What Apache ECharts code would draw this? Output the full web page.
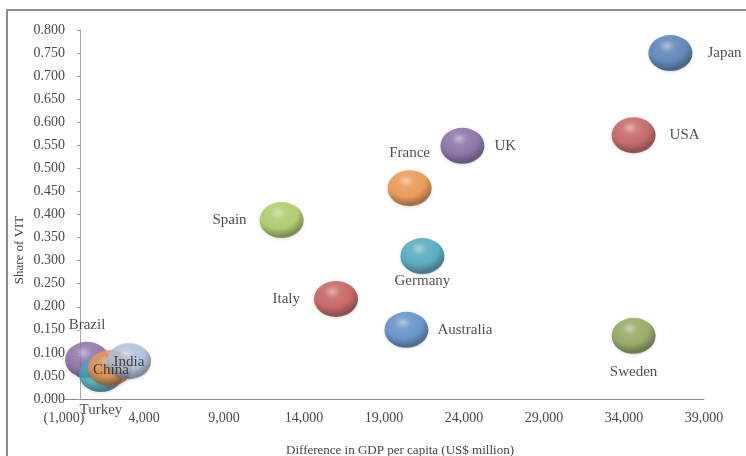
<!DOCTYPE html>
<html>
<head>
<meta charset="utf-8">
<script src="https://cdn.jsdelivr.net/npm/echarts@6/dist/echarts.min.js"></script>
<style>
  html, body { margin: 0; padding: 0; background: #fff; }
  #chart { width: 746px; height: 456px; }
</style>
</head>
<body>
<div id="chart"></div>
<script>
// Countries, GDP-per-capita difference (US$ million) and share of VIT
var countries = ['Japan', 'USA', 'UK', 'France', 'Spain', 'Germany', 'Italy', 'Australia', 'Sweden', 'Brazil', 'Turkey', 'China', 'India'];
var gdpDiff   = [36900, 34600, 23900, 20600, 12600, 21400, 16000, 20400, 34600, 440, 1310, 1875, 3060];
var vitShare  = [0.750, 0.572, 0.549, 0.457, 0.388, 0.310, 0.217, 0.150, 0.137, 0.085, 0.054, 0.067, 0.082];

// Axis ticks
var xTicks = [-1000, 4000, 9000, 14000, 19000, 24000, 29000, 34000, 39000];
var yTicks = [0, 0.05, 0.10, 0.15, 0.20, 0.25, 0.30, 0.35, 0.40, 0.45, 0.50, 0.55, 0.60, 0.65, 0.70, 0.75, 0.80];

// Bubble base colours
var bubbleColors = {
  Japan: '#4274b0', USA: '#c0504d', UK: '#7a5c9e', France: '#ee8b38', Spain: '#a6c856',
  Germany: '#3aa0ba', Italy: '#c24c49', Australia: '#4b84c6', Sweden: '#889f4a',
  Brazil: '#8062a2', Turkey: '#3ca5bf', China: '#f39243', India: '#a9bcdb'
};

// Where each country's name sits relative to its bubble
var labelPlacement = {
  Japan: ['right', 15], USA: ['right', 14], UK: ['right', 10], France: ['top', 10],
  Spain: ['left', 13], Germany: ['bottom', 0], Italy: ['left', 14], Australia: ['right', 9],
  Sweden: ['bottom', 11], Brazil: ['top', 9], Turkey: ['bottom', 10],
  China: ['inside', 0, [1, 2]], India: ['inside', 0, [0, 1]]
};

function shade(hex, f) {
  var n = parseInt(hex.slice(1), 16);
  var r = (n >> 16) & 255, g = (n >> 8) & 255, b = n & 255;
  function ch(c) {
    var v = f >= 0 ? c + (255 - c) * f : c * (1 + f);
    return Math.max(0, Math.min(255, Math.round(v)));
  }
  return 'rgb(' + ch(r) + ',' + ch(g) + ',' + ch(b) + ')';
}

// Glossy sphere look: bright highlight upper-left, darker rim below
function sphere(hex) {
  return {
    type: 'radial', x: 0.42, y: 0.3, r: 0.8,
    colorStops: [
      { offset: 0, color: shade(hex, 0.5) },
      { offset: 0.22, color: shade(hex, 0.12) },
      { offset: 0.55, color: hex },
      { offset: 0.82, color: shade(hex, -0.4) },
      { offset: 1, color: shade(hex, -0.2) }
    ]
  };
}

var tickFont = { fontFamily: 'Liberation Serif', fontSize: 14, color: '#4a4a4a' };

var points = countries.map(function (name, i) {
  var lp = labelPlacement[name];
  var label = { position: lp[0], distance: lp[1] };
  if (lp[2]) label.offset = lp[2];
  return {
    name: name,
    value: [gdpDiff[i], vitShare[i]],
    itemStyle: { color: sphere(bubbleColors[name]) },
    label: label
  };
});

function fmtThousands(v) {
  var s = Math.abs(v).toFixed(0).replace(/\B(?=(\d{3})+(?!\d))/g, ',');
  return v < 0 ? '(' + s + ')' : s;
}

var chart = echarts.init(document.getElementById('chart'), null, { renderer: 'canvas' });
chart.setOption({
  animation: false,
  backgroundColor: '#ffffff',
  grid: { left: 64, right: 42, top: 30, bottom: 57, containLabel: false },
  xAxis: {
    type: 'value',
    min: xTicks[0],
    max: xTicks[xTicks.length - 1],
    interval: xTicks[1] - xTicks[0],
    splitLine: { show: false },
    axisTick: { show: false },
    axisLine: { onZero: true, lineStyle: { color: '#8a8a8a', width: 1 } },
    axisLabel: Object.assign({ margin: 12, formatter: fmtThousands }, tickFont)
  },
  yAxis: {
    type: 'value',
    min: yTicks[0],
    max: yTicks[yTicks.length - 1],
    interval: yTicks[1] - yTicks[0],
    splitLine: { show: false },
    axisTick: { show: true, length: 3, lineStyle: { color: '#a0a0a0' } },
    axisLine: { onZero: true, lineStyle: { color: '#a8a8a8', width: 1 } },
    axisLabel: Object.assign({ margin: -1, formatter: function (v) { return v.toFixed(3); } }, tickFont)
  },
  graphic: [
    {
      type: 'rect', silent: true, z: -1,
      shape: { x: 7, y: 10, width: 760, height: 470 },
      style: { fill: 'none', stroke: '#8c8c8c', lineWidth: 2 }
    },
    {
      type: 'text', x: 20, y: 250, rotation: Math.PI / 2,
      style: {
        text: 'Share of VIT', fontFamily: 'Liberation Serif', fontSize: 13,
        fill: '#454545', align: 'center', verticalAlign: 'middle'
      }
    },
    {
      type: 'text', x: 400, y: 451,
      style: {
        text: 'Difference in GDP per capita (US$ million)', fontFamily: 'Liberation Serif', fontSize: 13,
        fill: '#454545', align: 'center', verticalAlign: 'middle'
      }
    }
  ],
  series: [{
    type: 'scatter',
    symbol: 'circle',
    symbolSize: [44, 36],
    data: points,
    itemStyle: { shadowColor: 'rgba(0,0,0,0.18)', shadowBlur: 3, shadowOffsetY: 1 },
    label: {
      show: true,
      formatter: '{b}',
      fontFamily: 'Liberation Serif',
      fontSize: 15,
      color: '#1e1e1e'
    },
    emphasis: { disabled: true }
  }]
});
</script>
</body>
</html>
